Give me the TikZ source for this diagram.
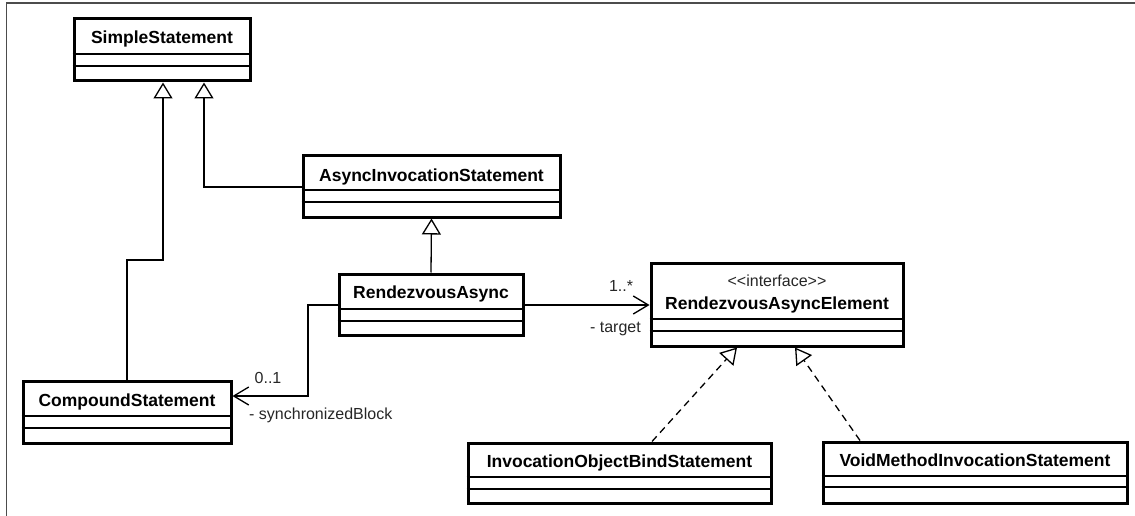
\documentclass[tikz,border=0pt]{standalone}
\usepackage{fontspec}
\setmainfont{Liberation Sans}
\usetikzlibrary{arrows.meta,fit}

\tikzset{
  cls/.style={draw, line width=3pt, fill=white, inner sep=0pt},
  div/.style={line width=1.3pt},
  title/.style={font=\fontsize{17.5}{20}\selectfont\bfseries, inner sep=0pt, anchor=base},
  small/.style={font=\fontsize{16}{19}\selectfont, inner sep=0pt, anchor=base, text=black!85},
  gen/.style={line width=1.3pt, -{Triangle[open, length=16pt, width=19pt, fill=white]}},
  real/.style={line width=1.3pt, dash pattern=on 7pt off 5pt, -{Triangle[open, length=16pt, width=19pt, fill=white]}},
  assoc/.style={line width=1.3pt, -{Straight Barb[length=15pt, width=18pt]}},
  frameline/.style={line width=1.6pt, draw=black!70}
}

% class box: name, x1, y1, x2, y2, first divider, second divider
\newcommand\umlclass[7]{%
  \node[cls, fit={(#2,#3) (#4,#5)}] (#1) {};
  \draw[div] (#1.west |- 0,#6) -- (#1.east |- 0,#6);
  \draw[div] (#1.west |- 0,#7) -- (#1.east |- 0,#7);
}

\begin{document}
\begin{tikzpicture}[x=1pt, y=-1pt]
\useasboundingbox (0,0) rectangle (1135,516);

% frame lines along the top and left edges
\coordinate (fb) at (6.5,516);
\coordinate (fc) at (6.5,3);
\coordinate (fr) at (1135,3);
\draw[frameline] (fb) -- (fc) -- (fr);

% classes
\umlclass{ss}{74}{19}{250}{81}{54}{66}
\node[title] (ss-t) at (162,44) {SimpleStatement};

\umlclass{ais}{303}{156}{560}{217}{190}{202}
\node[title] (ais-t) at (431.5,181) {AsyncInvocationStatement};

\umlclass{ra}{339}{274}{523}{335}{309}{321}
\node[title] (ra-t) at (431,298) {RendezvousAsync};

\umlclass{cs}{23}{381}{231}{443}{416}{428}
\node[title] (cs-t) at (127,406) {CompoundStatement};

\umlclass{rae}{651}{263}{903}{346}{319}{331}
\node[small] (rae-s) at (777,286) {<\kern0pt<interface>\kern0pt>};
\node[title] (rae-t) at (777,309) {RendezvousAsyncElement};

\umlclass{iob}{468}{443}{771}{503}{477}{489}
\node[title] (iob-t) at (619.5,467) {InvocationObjectBindStatement};

\umlclass{vm}{823}{442}{1127}{503}{476}{487}
\node[title] (vm-t) at (975,466) {VoidMethodInvocationStatement};

% generalizations
\coordinate (bend) at (127,260);
\draw[gen] (cs.north -| bend) -- (bend) -| (ss.south -| 163,0);
\draw[gen] (ais.west |- 0,187) -| (ss.south -| 204,0);
\draw[gen] (ra.north) -- (ais.south);

% associations
\coordinate (syncbend) at (308,396);
\draw[assoc] (ra.west |- 0,305) -| (syncbend) -- (cs.east |- syncbend);
\node[small] (m01) at (268,383) {0..1};
\node[small, anchor=base west] (rsync) at (249,419) {- synchronizedBlock};

\draw[assoc] (ra.east |- 0,305) -- (rae.west |- 0,305);
\node[small] (m1n) at (621,291) {1..*};
\node[small, anchor=base east] (rtarget) at (641,332) {- target};

% realizations
\draw[real] (iob.north -| 652,0) -- (rae.south -| 737,0);
\draw[real] (vm.north -| 860,0) -- (rae.south -| 795,0);
\end{tikzpicture}
\end{document}
